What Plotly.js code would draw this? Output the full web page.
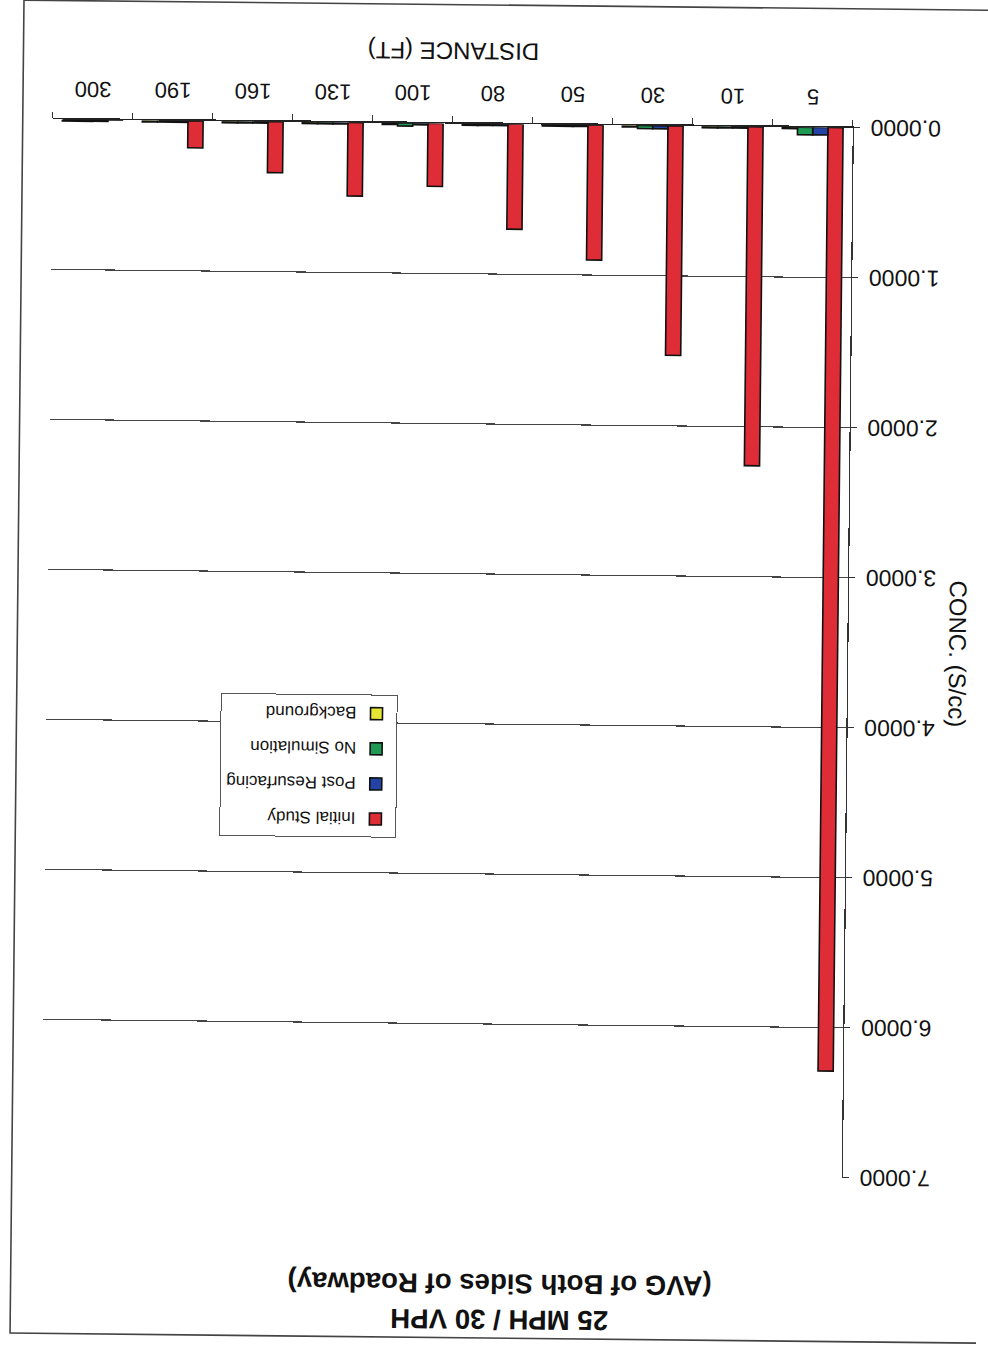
<!DOCTYPE html>
<html>
<head>
<meta charset="utf-8">
<script src="https://cdn.plot.ly/plotly-3.0.1.min.js"></script>
<style>
  html, body { margin: 0; padding: 0; background: #ffffff; overflow: hidden; }
  #chart {
    width: 988px;
    height: 1347px;
    transform: translate(-5px, -3px) rotate(180.6deg);
    transform-origin: 50% 50%;
  }
</style>
</head>
<body>
<div id="chart"></div>
<script>
// Distance from the roadway edge (ft)
const distances = ['5', '10', '30', '50', '80', '100', '130', '160', '190', '300'];

// Average concentration (S/cc), both sides of the roadway
const initialStudy     = [6.29, 2.26, 1.53, 0.90, 0.70, 0.42, 0.49, 0.34, 0.18, 0.00];
const postResurfacing  = [0.05, 0.01, 0.02, 0.01, 0.01, 0.01, 0.01, 0.01, 0.01, 0.01];
const noSimulation     = [0.05, 0.01, 0.02, 0.01, 0.01, 0.02, 0.01, 0.01, 0.01, 0.01];
const background       = [0.01, 0.01, 0.01, 0.01, 0.01, 0.01, 0.01, 0.01, 0.01, 0.01];

const yTicks = [0, 1, 2, 3, 4, 5, 6, 7];
const gridVals = [1, 2, 3, 4, 5, 6];

const FONT = 'Liberation Sans, Arial, sans-serif';

function barTrace(name, values, color, group) {
  return {
    type: 'bar',
    name: name,
    x: distances,
    y: values,
    legendgroup: group,
    marker: { color: color, line: { color: '#111111', width: 1.6 } },
    hoverinfo: 'x+y+name'
  };
}

const data = [
  barTrace('Initial Study', initialStudy, '#de2d37', 'g1'),
  barTrace('Post Resurfacing', postResurfacing, '#2443a6', 'g2'),
  barTrace('No Simulation', noSimulation, '#1f9a55', 'g3'),
  barTrace('Background', background, '#e6e634', 'g4')
];

const layout = {
  width: 988,
  height: 1347,
  margin: { l: 136, r: 52, t: 170, b: 127, pad: 0 },
  paper_bgcolor: '#ffffff',
  plot_bgcolor: '#ffffff',
  font: { family: FONT, color: '#111111' },
  title: {
    text: '<b>25 MPH / 30 VPH</b><br><b>(AVG of Both Sides of Roadway)</b>',
    font: { family: FONT, size: 27.6, color: '#111111' },
    x: 477 / 988,
    xref: 'container',
    xanchor: 'center',
    y: 1 - 34 / 1347,
    yref: 'container',
    yanchor: 'top'
  },
  barmode: 'group',
  bargap: 0.24,
  bargroupgap: 0,
  showlegend: true,
  legend: {
    x: 0.5613,
    y: 0.6807,
    xanchor: 'left',
    yanchor: 'top',
    bgcolor: '#ffffff',
    bordercolor: '#555555',
    borderwidth: 1,
    font: { family: FONT, size: 17, color: '#111111' },
    traceorder: 'grouped',
    tracegroupgap: 10,
    entrywidth: 190,
    entrywidthmode: 'pixels'
  },
  xaxis: {
    type: 'category',
    categoryorder: 'array',
    categoryarray: distances,
    tickson: 'boundaries',
    ticks: 'outside',
    ticklen: 6,
    tickwidth: 1.2,
    tickcolor: '#333333',
    showline: true,
    linecolor: '#222222',
    linewidth: 1.6,
    showgrid: false,
    zeroline: false,
    ticklabelstandoff: 10,
    tickfont: { family: FONT, size: 22, color: '#111111' },
    title: {
      text: 'DISTANCE (FT)',
      font: { family: FONT, size: 24, color: '#111111' },
      standoff: 22
    }
  },
  yaxis: {
    range: [0, 7],
    tickmode: 'array',
    tickvals: yTicks,
    tickformat: '.4f',
    ticks: 'outside',
    ticklen: 6,
    tickwidth: 1.2,
    tickcolor: '#333333',
    showline: true,
    linecolor: '#333333',
    linewidth: 1.2,
    showgrid: false,
    zeroline: false,
    ticklabelstandoff: 6,
    tickfont: { family: FONT, size: 23, color: '#111111' },
    minor: {
      tickmode: 'array',
      tickvals: gridVals,
      showgrid: true,
      gridcolor: '#444444',
      gridwidth: 1.1,
      ticks: ''
    },
    title: {
      text: 'CONC. (S/cc)',
      font: { family: FONT, size: 24, color: '#111111' },
      standoff: 6
    }
  },
  shapes: [
    {
      // outer frame around the chart sheet
      type: 'rect',
      xref: 'paper',
      yref: 'paper',
      x0: -1,
      x1: (966 - 136) / 800,
      y0: (1220 - 1339) / 1050,
      y1: (1220 - 6) / 1050,
      line: { color: '#444444', width: 1.6 },
      fillcolor: 'rgba(0,0,0,0)',
      layer: 'below'
    }
  ]
};

Plotly.newPlot('chart', data, layout, { displayModeBar: false, staticPlot: true });
</script>
</body>
</html>
